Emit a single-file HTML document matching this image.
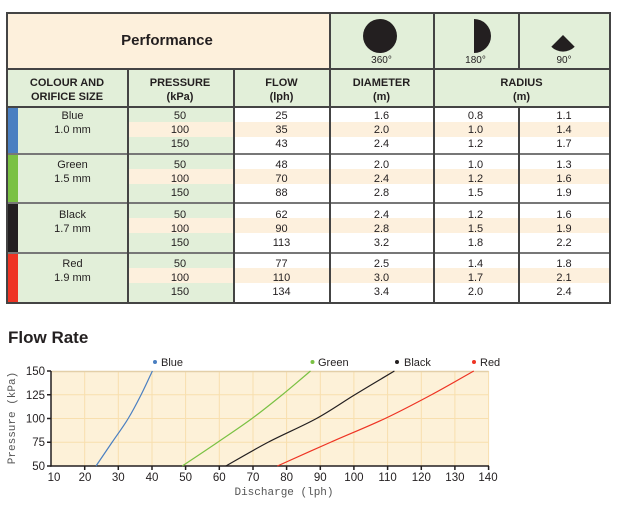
<!DOCTYPE html>
<html><head><meta charset="utf-8"><style>
body{margin:0;width:632px;height:505px;background:#fff;position:relative;overflow:hidden;font-family:"Liberation Sans",sans-serif;color:#231f20}
.a{position:absolute}
.c{position:absolute;text-align:center;font-size:11px;line-height:14px}
.h{font-weight:bold}
.vl{position:absolute;width:1.5px;background:#444}
.hl{position:absolute;height:1.5px;background:#444}
</style></head><body>
<!-- backgrounds -->
<div class="a" style="left:7px;top:13px;width:323px;height:56px;background:#fdf0dc"></div>
<div class="a" style="left:330px;top:13px;width:280px;height:56px;background:#e2efd9"></div>
<div class="a" style="left:7px;top:69px;width:603px;height:38px;background:#e2efd9"></div>
<div class="a" style="left:7px;top:107px;width:227px;height:196px;background:#e2efd9"></div>
<div class="a" style="left:127px;top:122px;width:483px;height:15px;background:#fdf0dd"></div>
<div class="a" style="left:127px;top:169px;width:483px;height:15px;background:#fdf0dd"></div>
<div class="a" style="left:127px;top:218px;width:483px;height:15px;background:#fdf0dd"></div>
<div class="a" style="left:127px;top:268px;width:483px;height:15px;background:#fdf0dd"></div>
<div class="a" style="left:7px;top:107px;width:11px;height:47px;background:#4a7fc1"></div>
<div class="a" style="left:7px;top:154px;width:11px;height:49px;background:#7ac143"></div>
<div class="a" style="left:7px;top:203px;width:11px;height:50px;background:#231f20"></div>
<div class="a" style="left:7px;top:253px;width:11px;height:50px;background:#ee3424"></div>
<!-- lines -->
<div class="hl" style="left:7px;top:12px;width:603px"></div>
<div class="hl" style="left:7px;top:68px;width:603px"></div>
<div class="hl" style="left:7px;top:106px;width:603px"></div>
<div class="hl" style="left:7px;top:153px;width:603px;background:#777"></div>
<div class="hl" style="left:7px;top:202px;width:603px;background:#777"></div>
<div class="hl" style="left:7px;top:252px;width:603px;background:#777"></div>
<div class="hl" style="left:7px;top:302px;width:603px"></div>
<div class="vl" style="left:6px;top:12px;height:292px"></div>
<div class="vl" style="left:609px;top:12px;height:292px"></div>
<div class="vl" style="left:127px;top:68px;height:235px"></div>
<div class="vl" style="left:233px;top:68px;height:235px"></div>
<div class="vl" style="left:329px;top:12px;height:291px"></div>
<div class="vl" style="left:433px;top:12px;height:291px"></div>
<div class="vl" style="left:518px;top:12px;height:57px"></div>
<div class="vl" style="left:518px;top:106px;height:197px"></div>
<!-- header -->
<div class="a h" style="left:7px;top:32px;width:320px;text-align:center;font-size:15px">Performance</div>
<svg class="a" style="left:0;top:0" width="632" height="70">
<circle cx="380" cy="36" r="17" fill="#231f20"/>
<path d="M474 19 A17 17 0 0 1 474 53 Z" fill="#231f20"/>
<path d="M563 35 L574.7 46.7 A16.5 16.5 0 0 1 551.3 46.7 Z" fill="#231f20"/>
</svg>
<div class="c" style="left:330px;top:54px;width:103px;font-size:10px">360°</div>
<div class="c" style="left:433px;top:54px;width:85px;font-size:10px">180°</div>
<div class="c" style="left:518px;top:54px;width:92px;font-size:10px">90°</div>
<div class="c h" style="left:7px;top:76px;width:120px">COLOUR AND<br>ORIFICE SIZE</div>
<div class="c h" style="left:127px;top:76px;width:106px">PRESSURE<br>(kPa)</div>
<div class="c h" style="left:233px;top:76px;width:97px">FLOW<br>(lph)</div>
<div class="c h" style="left:330px;top:76px;width:103px">DIAMETER<br>(m)</div>
<div class="c h" style="left:433px;top:76px;width:177px">RADIUS<br>(m)</div>
<!-- data -->
<div class="c" style="left:18px;top:109px;width:109px">Blue<br>1.0 mm</div>
<div class="c" style="left:18px;top:158px;width:109px">Green<br>1.5 mm</div>
<div class="c" style="left:18px;top:208px;width:109px">Black<br>1.7 mm</div>
<div class="c" style="left:18px;top:257px;width:109px">Red<br>1.9 mm</div>

<div class="c" style="left:127px;top:109px;width:106px">50<br>100<br>150</div>
<div class="c" style="left:233px;top:109px;width:97px">25<br>35<br>43</div>
<div class="c" style="left:330px;top:109px;width:103px">1.6<br>2.0<br>2.4</div>
<div class="c" style="left:433px;top:109px;width:85px">0.8<br>1.0<br>1.2</div>
<div class="c" style="left:518px;top:109px;width:92px">1.1<br>1.4<br>1.7</div>

<div class="c" style="left:127px;top:158px;width:106px">50<br>100<br>150</div>
<div class="c" style="left:233px;top:158px;width:97px">48<br>70<br>88</div>
<div class="c" style="left:330px;top:158px;width:103px">2.0<br>2.4<br>2.8</div>
<div class="c" style="left:433px;top:158px;width:85px">1.0<br>1.2<br>1.5</div>
<div class="c" style="left:518px;top:158px;width:92px">1.3<br>1.6<br>1.9</div>

<div class="c" style="left:127px;top:208px;width:106px">50<br>100<br>150</div>
<div class="c" style="left:233px;top:208px;width:97px">62<br>90<br>113</div>
<div class="c" style="left:330px;top:208px;width:103px">2.4<br>2.8<br>3.2</div>
<div class="c" style="left:433px;top:208px;width:85px">1.2<br>1.5<br>1.8</div>
<div class="c" style="left:518px;top:208px;width:92px">1.6<br>1.9<br>2.2</div>

<div class="c" style="left:127px;top:257px;width:106px">50<br>100<br>150</div>
<div class="c" style="left:233px;top:257px;width:97px">77<br>110<br>134</div>
<div class="c" style="left:330px;top:257px;width:103px">2.5<br>3.0<br>3.4</div>
<div class="c" style="left:433px;top:257px;width:85px">1.4<br>1.7<br>2.0</div>
<div class="c" style="left:518px;top:257px;width:92px">1.8<br>2.1<br>2.4</div>

<!-- chart -->
<div class="a h" style="left:8px;top:328px;font-size:17px">Flow Rate</div>
<svg class="a" style="left:0;top:0" width="632" height="505">
<rect x="51" y="371" width="437.6" height="95" fill="#fdf1d8"/>
<g stroke="#f8dfae" stroke-width="1">
<line x1="84.7" y1="371" x2="84.7" y2="466"/><line x1="118.3" y1="371" x2="118.3" y2="466"/><line x1="152" y1="371" x2="152" y2="466"/><line x1="185.6" y1="371" x2="185.6" y2="466"/><line x1="219.3" y1="371" x2="219.3" y2="466"/><line x1="253" y1="371" x2="253" y2="466"/><line x1="286.6" y1="371" x2="286.6" y2="466"/><line x1="320.3" y1="371" x2="320.3" y2="466"/><line x1="353.9" y1="371" x2="353.9" y2="466"/><line x1="387.6" y1="371" x2="387.6" y2="466"/><line x1="421.3" y1="371" x2="421.3" y2="466"/><line x1="454.9" y1="371" x2="454.9" y2="466"/><line x1="488.6" y1="371" x2="488.6" y2="466"/>
<line x1="51" y1="394.75" x2="488.6" y2="394.75"/><line x1="51" y1="418.5" x2="488.6" y2="418.5"/><line x1="51" y1="442.25" x2="488.6" y2="442.25"/>
</g>
<line x1="51" y1="371.5" x2="488.6" y2="371.5" stroke="#e3cfa8" stroke-width="1.5"/>
<g stroke="#231f20" stroke-width="1.5">
<line x1="51" y1="371" x2="51" y2="466.7"/><line x1="50.3" y1="466" x2="489" y2="466"/>
<line x1="47" y1="371" x2="51" y2="371"/><line x1="47" y1="394.75" x2="51" y2="394.75"/><line x1="47" y1="418.5" x2="51" y2="418.5"/><line x1="47" y1="442.25" x2="51" y2="442.25"/><line x1="47" y1="466" x2="51" y2="466"/>
<line x1="84.7" y1="466" x2="84.7" y2="470"/><line x1="118.3" y1="466" x2="118.3" y2="470"/><line x1="152" y1="466" x2="152" y2="470"/><line x1="185.6" y1="466" x2="185.6" y2="470"/><line x1="219.3" y1="466" x2="219.3" y2="470"/><line x1="253" y1="466" x2="253" y2="470"/><line x1="286.6" y1="466" x2="286.6" y2="470"/><line x1="320.3" y1="466" x2="320.3" y2="470"/><line x1="353.9" y1="466" x2="353.9" y2="470"/><line x1="387.6" y1="466" x2="387.6" y2="470"/><line x1="421.3" y1="466" x2="421.3" y2="470"/><line x1="454.9" y1="466" x2="454.9" y2="470"/><line x1="488.6" y1="466" x2="488.6" y2="470"/>
</g>
<g fill="none" stroke-width="1.2">
<path d="M96 466 C98.7 462.04 106.7 450.17 112.1 442.25 C117.5 434.33 123.4 426.42 128.2 418.5 C133 410.58 137.1 402.67 141.1 394.75 C145.1 386.83 150.5 374.96 152.4 371" stroke="#4a7fc1"/>
<path d="M182.3 466 C188.2 462.04 206.1 450.17 217.7 442.25 C229.3 434.33 241.2 426.42 252 418.5 C262.8 410.58 272.55 402.67 282.3 394.75 C292.05 386.83 305.8 374.96 310.5 371" stroke="#7ac143"/>
<path d="M225.8 466 C232.85 462.04 253 450.17 268.1 442.25 C283.2 434.33 302.05 426.42 316.5 418.5 C330.95 410.58 341.8 402.67 354.8 394.75 C367.8 386.83 387.8 374.96 394.4 371" stroke="#231f20"/>
<path d="M277.4 466 C286.3 462.04 312.65 450.17 330.6 442.25 C348.55 434.33 368.3 426.42 385.1 418.5 C401.9 410.58 416.7 402.67 431.5 394.75 C446.3 386.83 466.75 374.96 473.8 371" stroke="#ee3424"/>
</g>
<g font-family="Liberation Sans, sans-serif" font-size="11.5" fill="#231f20" text-anchor="end">
<text x="45" y="375">150</text><text x="45" y="399">125</text><text x="45" y="422.5">100</text><text x="45" y="446">75</text><text x="45" y="470">50</text>
</g>
<g font-family="Liberation Sans, sans-serif" font-size="11.5" fill="#231f20" text-anchor="middle">
<text x="54" y="481">10</text><text x="85" y="481">20</text><text x="118.3" y="481">30</text><text x="152" y="481">40</text><text x="185.6" y="481">50</text><text x="219.3" y="481">60</text><text x="253" y="481">70</text><text x="286.6" y="481">80</text><text x="320.3" y="481">90</text><text x="353.9" y="481">100</text><text x="387.6" y="481">110</text><text x="421.3" y="481">120</text><text x="454.9" y="481">130</text><text x="488" y="481">140</text>
</g>
<text x="284" y="495" font-family="Liberation Mono, monospace" font-size="11" fill="#555" text-anchor="middle">Discharge (lph)</text>
<text transform="translate(15 418) rotate(-90)" font-family="Liberation Mono, monospace" font-size="11" fill="#555" text-anchor="middle">Pressure (kPa)</text>
<g font-family="Liberation Sans, sans-serif" font-size="11" fill="#231f20">
<circle cx="155" cy="362" r="2" fill="#4a7fc1"/><text x="161" y="366">Blue</text>
<circle cx="312.5" cy="362" r="2" fill="#7ac143"/><text x="318" y="366">Green</text>
<circle cx="397" cy="362" r="2" fill="#231f20"/><text x="404" y="366">Black</text>
<circle cx="474" cy="362" r="2" fill="#ee3424"/><text x="480" y="366">Red</text>
</g>
</svg>
</body></html>
